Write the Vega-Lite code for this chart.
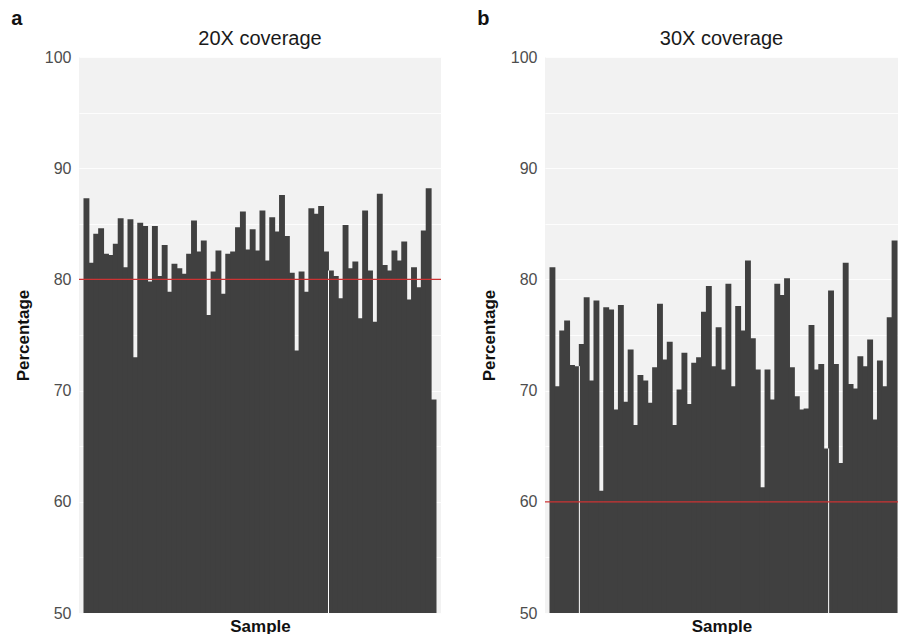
{
  "$schema": "https://vega.github.io/schema/vega-lite/v6.json",
  "padding": {"left": 11, "top": 9, "right": 0, "bottom": 0},
  "background": "white",
  "config": {
    "font": "Liberation Sans",
    "view": {"stroke": null, "fill": "#F2F2F2"},
    "concat": {"spacing": 35},
    "axis": {"labelFont": "Liberation Sans", "titleFont": "Liberation Sans"}
  },
  "datasets": {
    "cov20": [
      {"sample": 1, "pct": 87.3}, {"sample": 2, "pct": 81.5}, {"sample": 3, "pct": 84.1}, {"sample": 4, "pct": 84.6},
      {"sample": 5, "pct": 82.3}, {"sample": 6, "pct": 82.2}, {"sample": 7, "pct": 83.2}, {"sample": 8, "pct": 85.5},
      {"sample": 9, "pct": 81.1}, {"sample": 10, "pct": 85.4}, {"sample": 11, "pct": 73.0}, {"sample": 12, "pct": 85.1},
      {"sample": 13, "pct": 84.8}, {"sample": 14, "pct": 79.8}, {"sample": 15, "pct": 84.8}, {"sample": 16, "pct": 80.3},
      {"sample": 17, "pct": 83.1}, {"sample": 18, "pct": 78.9}, {"sample": 19, "pct": 81.4}, {"sample": 20, "pct": 81.0},
      {"sample": 21, "pct": 80.5}, {"sample": 22, "pct": 82.3}, {"sample": 23, "pct": 85.3}, {"sample": 24, "pct": 82.5},
      {"sample": 25, "pct": 83.5}, {"sample": 26, "pct": 76.8}, {"sample": 27, "pct": 80.7}, {"sample": 28, "pct": 82.6},
      {"sample": 29, "pct": 78.7}, {"sample": 30, "pct": 82.3}, {"sample": 31, "pct": 82.5}, {"sample": 32, "pct": 84.7},
      {"sample": 33, "pct": 86.1}, {"sample": 34, "pct": 82.7}, {"sample": 35, "pct": 84.5}, {"sample": 36, "pct": 82.6},
      {"sample": 37, "pct": 86.2}, {"sample": 38, "pct": 81.7}, {"sample": 39, "pct": 85.6}, {"sample": 40, "pct": 84.3},
      {"sample": 41, "pct": 87.6}, {"sample": 42, "pct": 83.9}, {"sample": 43, "pct": 80.6}, {"sample": 44, "pct": 73.6},
      {"sample": 45, "pct": 80.7}, {"sample": 46, "pct": 78.9}, {"sample": 47, "pct": 86.4}, {"sample": 48, "pct": 85.9},
      {"sample": 49, "pct": 86.6}, {"sample": 50, "pct": 82.5}, {"sample": 51, "pct": 80.8}, {"sample": 52, "pct": 80.3},
      {"sample": 53, "pct": 78.3}, {"sample": 54, "pct": 84.9}, {"sample": 55, "pct": 81.0}, {"sample": 56, "pct": 81.6},
      {"sample": 57, "pct": 76.5}, {"sample": 58, "pct": 86.2}, {"sample": 59, "pct": 80.8}, {"sample": 60, "pct": 76.2},
      {"sample": 61, "pct": 87.7}, {"sample": 62, "pct": 81.3}, {"sample": 63, "pct": 80.8}, {"sample": 64, "pct": 82.6},
      {"sample": 65, "pct": 81.7}, {"sample": 66, "pct": 83.4}, {"sample": 67, "pct": 78.2}, {"sample": 68, "pct": 81.1},
      {"sample": 69, "pct": 79.3}, {"sample": 70, "pct": 84.4}, {"sample": 71, "pct": 88.2}, {"sample": 72, "pct": 69.2}
    ],
    "cov30": [
      {"sample": 1, "pct": 81.1}, {"sample": 2, "pct": 70.4}, {"sample": 3, "pct": 75.4}, {"sample": 4, "pct": 76.3},
      {"sample": 5, "pct": 72.3}, {"sample": 6, "pct": 72.2}, {"sample": 7, "pct": 74.2}, {"sample": 8, "pct": 78.4},
      {"sample": 9, "pct": 70.9}, {"sample": 10, "pct": 78.1}, {"sample": 11, "pct": 61.0}, {"sample": 12, "pct": 77.5},
      {"sample": 13, "pct": 77.3}, {"sample": 14, "pct": 68.3}, {"sample": 15, "pct": 77.7}, {"sample": 16, "pct": 69.0},
      {"sample": 17, "pct": 73.7}, {"sample": 18, "pct": 66.9}, {"sample": 19, "pct": 71.4}, {"sample": 20, "pct": 70.9},
      {"sample": 21, "pct": 68.9}, {"sample": 22, "pct": 72.1}, {"sample": 23, "pct": 77.8}, {"sample": 24, "pct": 72.8},
      {"sample": 25, "pct": 74.4}, {"sample": 26, "pct": 66.9}, {"sample": 27, "pct": 70.1}, {"sample": 28, "pct": 73.4},
      {"sample": 29, "pct": 68.8}, {"sample": 30, "pct": 72.5}, {"sample": 31, "pct": 73.0}, {"sample": 32, "pct": 77.1},
      {"sample": 33, "pct": 79.4}, {"sample": 34, "pct": 72.2}, {"sample": 35, "pct": 75.7}, {"sample": 36, "pct": 71.9},
      {"sample": 37, "pct": 79.6}, {"sample": 38, "pct": 70.4}, {"sample": 39, "pct": 77.6}, {"sample": 40, "pct": 75.4},
      {"sample": 41, "pct": 81.7}, {"sample": 42, "pct": 74.7}, {"sample": 43, "pct": 71.9}, {"sample": 44, "pct": 61.3},
      {"sample": 45, "pct": 71.9}, {"sample": 46, "pct": 69.2}, {"sample": 47, "pct": 79.6}, {"sample": 48, "pct": 78.6},
      {"sample": 49, "pct": 80.1}, {"sample": 50, "pct": 72.1}, {"sample": 51, "pct": 69.5}, {"sample": 52, "pct": 68.3},
      {"sample": 53, "pct": 68.4}, {"sample": 54, "pct": 75.9}, {"sample": 55, "pct": 71.9}, {"sample": 56, "pct": 72.4},
      {"sample": 57, "pct": 64.8}, {"sample": 58, "pct": 79.0}, {"sample": 59, "pct": 72.4}, {"sample": 60, "pct": 63.5},
      {"sample": 61, "pct": 81.5}, {"sample": 62, "pct": 70.6}, {"sample": 63, "pct": 70.2}, {"sample": 64, "pct": 73.1},
      {"sample": 65, "pct": 72.2}, {"sample": 66, "pct": 74.6}, {"sample": 67, "pct": 67.4}, {"sample": 68, "pct": 72.7},
      {"sample": 69, "pct": 70.4}, {"sample": 70, "pct": 76.6}, {"sample": 71, "pct": 83.5}
    ],
    "gaps20": [{"after": 50, "pct": 80.8}],
    "gaps30": [{"after": 6, "pct": 72.2}, {"after": 57, "pct": 64.8}],
    "thr20": [{"threshold": 80}],
    "thr30": [{"threshold": 60}]
  },
  "hconcat": [
    {
      "title": {"text": "a", "anchor": "start", "frame": "bounds", "fontSize": 20, "fontWeight": "bold", "color": "#111111", "font": "Liberation Sans", "dx": -3, "offset": 0},
      "vconcat": [
        {
          "width": 362,
          "height": 556,
          "title": {"text": "20X coverage", "fontSize": 20, "fontWeight": "normal", "color": "#1A1A1A", "font": "Liberation Sans", "offset": 0, "anchor": "middle"},
          "layer": [
            {
              "data": {"name": "cov20"},
              "mark": {"type": "bar", "color": "#404040", "width": 5.9, "clip": true},
              "encoding": {
                "x": {"field": "sample", "type": "quantitative",
                      "scale": {"domain": [0.5, 72.5], "nice": false, "zero": false},
                      "axis": {"title": "Sample", "titleFontSize": 17, "titleFontWeight": "bold", "titleColor": "#111111", "titlePadding": 5,
                               "labels": false, "ticks": false, "domain": false, "grid": false}},
                "y": {"field": "pct", "type": "quantitative",
                      "scale": {"domain": [50, 100], "nice": false, "zero": false},
                      "axis": {"title": "Percentage", "titleFontSize": 17, "titleFontWeight": "bold", "titleColor": "#111111", "titlePadding": 12,
                               "values": [50,55,60,65,70,75,80,85,90,95,100],
                               "labelExpr": "datum.value % 10 === 0 ? datum.label : ''",
                               "labelFontSize": 16, "labelColor": "#4D4D4D", "labelPadding": 8,
                               "ticks": false, "domain": false,
                               "grid": true, "gridColor": "#FDFDFD", "gridWidth": 1.2}}
              }
            },
            {
              "data": {"name": "gaps20"},
              "mark": {"type": "rule", "color": "white", "strokeWidth": 1, "clip": true},
              "encoding": {
                "x": {"field": "after", "type": "quantitative"},
                "xOffset": {"value": 2.5},
                "y": {"field": "pct", "type": "quantitative"},
                "y2": {"datum": 40}
              }
            },
            {
              "data": {"name": "thr20"},
              "mark": {"type": "rule", "color": "#CC3333", "strokeWidth": 1.3},
              "encoding": {"y": {"field": "threshold", "type": "quantitative"}}
            }
          ]
        }
      ]
    },
    {
      "title": {"text": "b", "anchor": "start", "frame": "bounds", "fontSize": 20, "fontWeight": "bold", "color": "#111111", "font": "Liberation Sans", "dx": -3, "offset": 0},
      "vconcat": [
        {
          "width": 353,
          "height": 556,
          "title": {"text": "30X coverage", "fontSize": 20, "fontWeight": "normal", "color": "#1A1A1A", "font": "Liberation Sans", "offset": 0, "anchor": "middle"},
          "layer": [
            {
              "data": {"name": "cov30"},
              "mark": {"type": "bar", "color": "#404040", "width": 5.9, "clip": true},
              "encoding": {
                "x": {"field": "sample", "type": "quantitative",
                      "scale": {"domain": [0.5, 70.68], "nice": false, "zero": false},
                      "axis": {"title": "Sample", "titleFontSize": 17, "titleFontWeight": "bold", "titleColor": "#111111", "titlePadding": 5,
                               "labels": false, "ticks": false, "domain": false, "grid": false}},
                "y": {"field": "pct", "type": "quantitative",
                      "scale": {"domain": [50, 100], "nice": false, "zero": false},
                      "axis": {"title": "Percentage", "titleFontSize": 17, "titleFontWeight": "bold", "titleColor": "#111111", "titlePadding": 12,
                               "values": [50,55,60,65,70,75,80,85,90,95,100],
                               "labelExpr": "datum.value % 10 === 0 ? datum.label : ''",
                               "labelFontSize": 16, "labelColor": "#4D4D4D", "labelPadding": 8,
                               "ticks": false, "domain": false,
                               "grid": true, "gridColor": "#FDFDFD", "gridWidth": 1.2}}
              }
            },
            {
              "data": {"name": "gaps30"},
              "mark": {"type": "rule", "color": "white", "strokeWidth": 1, "clip": true},
              "encoding": {
                "x": {"field": "after", "type": "quantitative"},
                "xOffset": {"value": 2.5},
                "y": {"field": "pct", "type": "quantitative"},
                "y2": {"datum": 40}
              }
            },
            {
              "data": {"name": "thr30"},
              "mark": {"type": "rule", "color": "#CC3333", "strokeWidth": 1.3},
              "encoding": {"y": {"field": "threshold", "type": "quantitative"}}
            }
          ]
        }
      ]
    }
  ]
}
